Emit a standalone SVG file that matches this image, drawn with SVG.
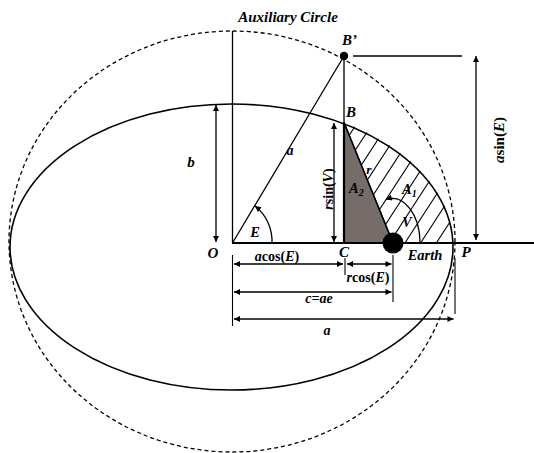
<svg xmlns="http://www.w3.org/2000/svg" width="534" height="453" viewBox="0 0 534 453">
<style>
  .t{font-family:"Liberation Serif","Times New Roman",serif;font-weight:bold;font-style:italic;fill:#000}
  .n{font-style:normal}
  .ln{stroke:#000;fill:none;stroke-width:1.3}
  .thick{stroke:#000;fill:none;stroke-width:2.2}
  .dim{stroke:#000;fill:none;stroke-width:1.3;marker-start:url(#ah);marker-end:url(#ah)}
  .ext{stroke:#000;fill:none;stroke-width:1.1}
  .hatch{stroke:#000;stroke-width:1.1}
</style>
<defs>
  <marker id="ah" viewBox="0 0 10 10" refX="10" refY="5" markerWidth="7" markerHeight="6" markerUnits="userSpaceOnUse" orient="auto-start-reverse">
    <path d="M0,0 L10,5 L0,10 Z" fill="#000"/>
  </marker>
  <clipPath id="hclip">
    <path d="M393,243 L344,122.5 A221.5,143 0 0 1 453.3,243 Z"/>
  </clipPath>
</defs>
<rect width="534" height="453" fill="#fff"/>

<g id="auxiliary-circle">
  <ellipse cx="232" cy="241.5" rx="223" ry="210.5" fill="none" stroke="#000" stroke-width="1.3" stroke-dasharray="4 3"/>
  <text class="t" x="288" y="22" font-size="15" text-anchor="middle">Auxiliary Circle</text>
</g>

<g id="orbit-ellipse">
  <ellipse cx="231.5" cy="247" rx="221.5" ry="143" fill="none" stroke="#000" stroke-width="1.6"/>
</g>

<g id="area-A1">
  <g clip-path="url(#hclip)">
    <line class="hatch" x1="263.6" y1="243" x2="363.6" y2="89"/>
    <line class="hatch" x1="279.3" y1="243" x2="379.3" y2="89"/>
    <line class="hatch" x1="295" y1="243" x2="395" y2="89"/>
    <line class="hatch" x1="310.7" y1="243" x2="410.7" y2="89"/>
    <line class="hatch" x1="326.4" y1="243" x2="426.4" y2="89"/>
    <line class="hatch" x1="342.1" y1="243" x2="442.1" y2="89"/>
    <line class="hatch" x1="357.8" y1="243" x2="457.8" y2="89"/>
    <line class="hatch" x1="373.5" y1="243" x2="473.5" y2="89"/>
    <line class="hatch" x1="389.2" y1="243" x2="489.2" y2="89"/>
    <line class="hatch" x1="404.9" y1="243" x2="504.9" y2="89"/>
    <line class="hatch" x1="420.6" y1="243" x2="520.6" y2="89"/>
    <line class="hatch" x1="436.3" y1="243" x2="536.3" y2="89"/>
    <line class="hatch" x1="452" y1="243" x2="552" y2="89"/>
  </g>
  <text class="t" x="402" y="194" font-size="14.5">A<tspan font-size="10" dy="3">1</tspan></text>
</g>

<g id="area-A2">
  <polygon points="344,122.5 344,243 393,243" fill="#766c6a" stroke="#000" stroke-width="1.4"/>
  <text class="t" x="349" y="193" font-size="14.5">A<tspan font-size="10" dy="3">2</tspan></text>
</g>

<g id="connectors">
  <line class="ln" x1="232.5" y1="243" x2="232.5" y2="31"/>
  <line class="thick" x1="232" y1="243" x2="534" y2="243"/>
  <line class="ln" x1="232.5" y1="243" x2="344" y2="56"/>
  <line class="ln" x1="344" y1="56" x2="344" y2="123" stroke-width="1.8"/>
  <line class="thick" x1="344" y1="122" x2="344" y2="243" stroke-width="2.6"/>
  <line class="ln" x1="344" y1="122.5" x2="393" y2="243" stroke-width="1.6"/>
  <line class="ln" x1="353" y1="56" x2="462" y2="56" stroke-width="1.6"/>
  <line class="dim" x1="476" y1="56" x2="476" y2="240"/>
  <line class="dim" x1="216" y1="105" x2="216" y2="242"/>
  <line class="dim" x1="334" y1="123" x2="334" y2="242"/>
  <path class="ln" d="M272,243 A42,44 0 0 0 255,206" marker-end="url(#ah)"/>
  <path class="ln" d="M420,242 A28,44 0 0 0 386,199.5" marker-end="url(#ah)"/>
  <line class="ext" x1="232.5" y1="255" x2="232.5" y2="326"/>
  <line class="ext" x1="345" y1="258" x2="345" y2="275"/>
  <line class="ext" x1="393" y1="255" x2="393" y2="302"/>
  <line class="ext" x1="455" y1="258" x2="455" y2="314"/>
  <line class="dim" x1="234" y1="264" x2="343" y2="264"/>
  <line class="dim" x1="347" y1="264" x2="391.5" y2="264"/>
  <line class="dim" x1="234" y1="292" x2="391.5" y2="292"/>
  <line class="dim" x1="234" y1="319" x2="453.5" y2="319"/>
</g>

<g id="point-Bprime">
  <circle cx="344" cy="56" r="4.2" fill="#000"/>
  <text class="t" x="342" y="45" font-size="15">B’</text>
</g>
<g id="point-B">
  <text class="t" x="346" y="117" font-size="15">B</text>
</g>
<g id="point-O">
  <text class="t" x="213" y="258" font-size="15" text-anchor="middle">O</text>
</g>
<g id="point-C">
  <text class="t" x="344" y="257" font-size="15" text-anchor="middle">C</text>
</g>
<g id="point-P">
  <text class="t" x="466" y="257" font-size="15" text-anchor="middle">P</text>
</g>
<g id="earth">
  <circle cx="393" cy="243" r="10.5" fill="#000"/>
  <text class="t" x="425" y="260" font-size="14.5" text-anchor="middle">Earth</text>
</g>

<g id="labels">
  <text class="t" x="290" y="155" font-size="14" text-anchor="middle">a</text>
  <text class="t" x="191" y="167" font-size="15" text-anchor="middle">b</text>
  <text class="t" x="255" y="237" font-size="14.5" text-anchor="middle">E</text>
  <text class="t" x="369" y="174" font-size="13.5" text-anchor="middle">r</text>
  <text class="t" x="407" y="227" font-size="14" text-anchor="middle">V</text>
  <text class="t" transform="translate(333,189) rotate(-90)" font-size="14" text-anchor="middle">r<tspan class="n">sin(</tspan>V<tspan class="n">)</tspan></text>
  <text class="t" transform="translate(504,140) rotate(-90)" font-size="15" text-anchor="middle">a<tspan class="n">sin(</tspan>E<tspan class="n">)</tspan></text>
  <text class="t" x="277" y="261" font-size="14" text-anchor="middle">a<tspan class="n">cos(</tspan>E<tspan class="n">)</tspan></text>
  <text class="t" x="368" y="282" font-size="14" text-anchor="middle">r<tspan class="n">cos(</tspan>E<tspan class="n">)</tspan></text>
  <text class="t" x="319" y="303" font-size="14" text-anchor="middle">c=ae</text>
  <text class="t" x="327" y="335" font-size="14" text-anchor="middle">a</text>
</g>
</svg>
